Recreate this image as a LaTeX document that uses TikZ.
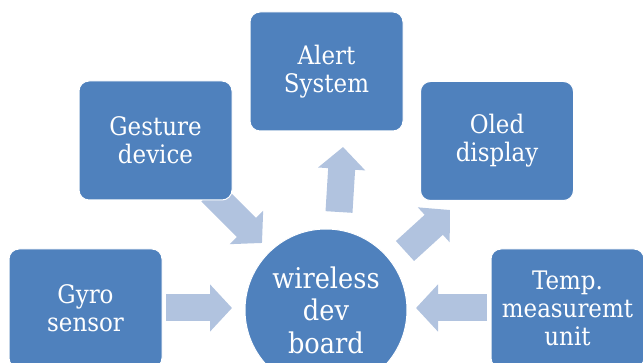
\documentclass[tikz,border=0pt]{standalone}
\usepackage{fontspec}
\setmainfont{DejaVu Serif}[FakeStretch=0.9]
\usetikzlibrary{arrows.meta,backgrounds}
\definecolor{boxblue}{RGB}{79,129,189}
\definecolor{arrowblue}{RGB}{177,195,223}
\tikzset{
  box/.style={rectangle, rounded corners=10pt, fill=boxblue, draw=white, line width=1pt,
    minimum width=153pt, minimum height=119pt, inner sep=0pt, text=white, align=center,
    font=\fontsize{25.5pt}{28pt}\selectfont},
  hub/.style={circle, fill=boxblue, draw=white, line width=1pt, minimum size=162pt, inner sep=0pt,
    text=white, align=center, font=\fontsize{28.5pt}{32.5pt}\selectfont},
  blockarrow/.style={draw=arrowblue, line width=27pt, line cap=butt,
    -{Triangle[width=46pt,length=22pt,fill=arrowblue]}}
}
\begin{document}
\begin{tikzpicture}[x=1pt,y=-1pt]
\useasboundingbox (0,0) rectangle (643,363);
\clip (0,0) rectangle (643,363);
\node[box] (gesture) at (155.5,140.5) {Gesture\\device};
\node[box] (alert) at (326.5,71.5) {Alert\\System};
\node[box] (oled) at (497,141) {Oled\\display};
\node[box] (gyro) at (85.5,308.5) {Gyro\\sensor};
\node[box] (temp) at (567.5,308.5) {Temp.\\measuremt\\unit};
\node[hub] (board) at (326,310) {wireless\\dev\\board};
\coordinate (gyroS) at (166,308);
\coordinate (gyroE) at (232,308);
\coordinate (tempS) at (487,308);
\coordinate (tempE) at (416,308);
\coordinate (gestS) at (211,192);
\coordinate (gestE) at (262,243);
\coordinate (alertS) at (339,212);
\coordinate (alertE) at (343,147);
\coordinate (oledS) at (405,251);
\coordinate (oledE) at (450,210);
\begin{scope}[on background layer]
\draw[blockarrow] (gyroS) -- (gyroE);
\draw[blockarrow] (tempS) -- (tempE);
\draw[blockarrow] (gestS) -- (gestE);
\draw[blockarrow] (alertS) -- (alertE);
\draw[blockarrow] (oledS) -- (oledE);
\end{scope}
\end{tikzpicture}
\end{document}
